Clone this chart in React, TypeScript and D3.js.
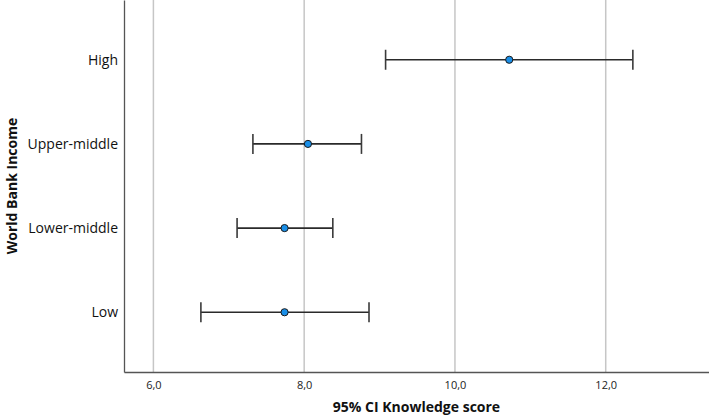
import React, { useEffect, useRef } from 'react';
import * as d3 from 'd3';

const categories = ['High', 'Upper-middle', 'Lower-middle', 'Low'];
const means = [10.72, 8.05, 7.74, 7.74];
const lower = [9.08, 7.32, 7.11, 6.63];
const upper = [12.36, 8.76, 8.38, 8.86];
const xTicks = [6, 8, 10, 12];

const W = 709;
const H = 415;

export default function App() {
  const svgRef = useRef<SVGSVGElement>(null);

  useEffect(() => {
    if (!svgRef.current) return;
    const svg = d3.select(svgRef.current);
    svg.selectAll('*').remove();

    const margin = { top: 0, right: 0, bottom: 43, left: 124 };
    const plotBottom = H - margin.bottom;

    const x = d3.scaleLinear()
      .domain([5.61, 13.37])
      .range([margin.left, W - margin.right]);

    const y = d3.scalePoint<string>()
      .domain(categories)
      .range([margin.top, plotBottom])
      .padding(0.71);

    const data = categories.map((c, i) => ({ c, m: means[i], lo: lower[i], hi: upper[i] }));

    // grid lines
    svg.append('g')
      .selectAll('line')
      .data(xTicks)
      .enter()
      .append('line')
      .attr('x1', d => x(d))
      .attr('x2', d => x(d))
      .attr('y1', margin.top)
      .attr('y2', plotBottom)
      .attr('stroke', '#c6c6c6')
      .attr('stroke-width', 1.5);

    // x axis
    svg.append('g')
      .attr('transform', `translate(0,${plotBottom})`)
      .call(d3.axisBottom(x)
        .tickValues(xTicks)
        .tickSize(0)
        .tickPadding(9)
        .tickFormat(d => d3.format('.1f')(d as number).replace('.', ',')))
      .call(g => g.select('.domain').attr('stroke', '#555').attr('stroke-width', 1.3))
      .call(g => g.selectAll('.tick text')
        .attr('fill', '#222')
        .attr('font-size', '11px')
        .attr('font-family', 'Open Sans, sans-serif'));

    // y axis
    svg.append('g')
      .attr('transform', `translate(${margin.left},0)`)
      .call(d3.axisLeft(y).tickSize(0).tickPadding(6))
      .call(g => g.select('.domain').attr('stroke', '#555').attr('stroke-width', 1.3))
      .call(g => g.selectAll('.tick text')
        .attr('fill', '#111')
        .attr('font-size', '14px')
        .attr('font-family', 'Open Sans, sans-serif'));

    // error bars
    const bars = svg.append('g');
    bars.selectAll('.ci')
      .data(data)
      .enter()
      .append('line')
      .attr('x1', d => x(d.lo))
      .attr('x2', d => x(d.hi))
      .attr('y1', d => y(d.c)!)
      .attr('y2', d => y(d.c)!)
      .attr('stroke', '#2a2a2a')
      .attr('stroke-width', 1.6);

    ['lo', 'hi'].forEach(k => {
      bars.selectAll(`.cap-${k}`)
        .data(data)
        .enter()
        .append('line')
        .attr('x1', d => x((d as any)[k]))
        .attr('x2', d => x((d as any)[k]))
        .attr('y1', d => y(d.c)! - 10)
        .attr('y2', d => y(d.c)! + 10)
        .attr('stroke', '#3a3a3a')
        .attr('stroke-width', 1.6);
    });

    bars.selectAll('circle')
      .data(data)
      .enter()
      .append('circle')
      .attr('cx', d => x(d.m))
      .attr('cy', d => y(d.c)!)
      .attr('r', 3.6)
      .attr('fill', '#1a8fe8')
      .attr('stroke', '#1a1a1a')
      .attr('stroke-width', 1);

    // axis titles
    svg.append('text')
      .attr('x', (margin.left + W) / 2)
      .attr('y', 412)
      .attr('text-anchor', 'middle')
      .attr('font-size', '14px')
      .attr('font-weight', 'bold')
      .attr('font-family', 'Open Sans, sans-serif')
      .attr('fill', '#111')
      .text('95% CI Knowledge score');

    svg.append('text')
      .attr('transform', `translate(17,${plotBottom / 2}) rotate(-90)`)
      .attr('text-anchor', 'middle')
      .attr('font-size', '14px')
      .attr('font-weight', 'bold')
      .attr('font-family', 'Open Sans, sans-serif')
      .attr('fill', '#111')
      .text('World Bank Income');
  }, []);

  return (
    <svg
      ref={svgRef}
      width={W}
      height={H}
      style={{ position: 'absolute', left: 0, top: 0, display: 'block', background: '#fff' }}
    />
  );
}
